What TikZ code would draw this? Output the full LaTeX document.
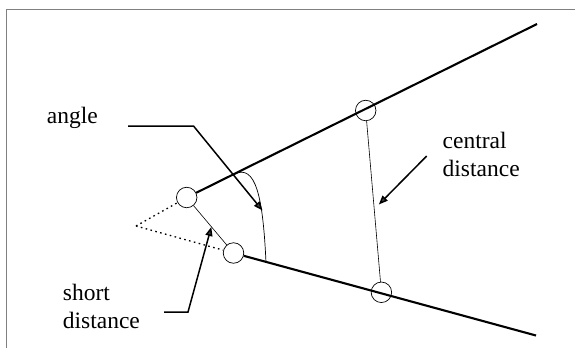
\documentclass[tikz,border=0pt]{standalone}
\usepackage{fontspec}
\setmainfont{Liberation Serif}
\usetikzlibrary{arrows.meta}
\begin{document}
\begin{tikzpicture}[x=1pt,y=-1pt,
  joint/.style={circle,draw,line width=0.7pt,fill=white,minimum size=20.5pt,inner sep=0pt},
  beam/.style={line width=2.1pt},
  thin/.style={line width=0.6pt},
  dots/.style={line width=1.3pt,dash pattern=on 1.6pt off 3.4pt},
  pointer/.style={line width=1.5pt,-{Triangle[length=9pt,width=7pt,fill=black!75]}},
  lbl/.style={inner sep=0pt,font=\fontsize{23.5}{27.8}\selectfont,align=left}]
\useasboundingbox (0,0) rectangle (575,348);
\draw[gray,line width=0.8pt] (575,9) -- (6,9) -- (6,348);
% dotted apex
\coordinate (v) at (136,226);
\node[joint] (c1) at (186.7,197.5) {};
\node[joint] (c2) at (233.5,253) {};
\node[joint] (c3) at (365.7,110.5) {};
\node[joint] (c4) at (381.4,292.3) {};
\coordinate (ue) at (537,24);
\coordinate (le) at (536,335.5);
\draw[beam] (c1) -- (ue);
\draw[beam] (c2) -- (le);
\draw[dots] (v) -- (c1);
\draw[dots] (v) -- (c2);
\draw[thin] (c1) -- (c2);
\draw[thin] (c3) -- (c4);
% angle arc
\coordinate (a1) at (234,174.3);
\coordinate (a2) at (266,262.5);
\draw[line width=0.7pt] (a1) .. controls (256,163) and (263,198) .. (a2);
% labels
\node[lbl,anchor=base west] (angle) at (46.7,123.3) {angle};
\node[lbl,anchor=base west] (central) at (442.5,176.7) {central\\distance};
\node[lbl,anchor=base west] (short) at (62.7,328.3) {short\\distance};
% pointers
\coordinate (p1) at (128,126);
\coordinate (p1b) at (193.5,126);
\coordinate (p1t) at (262.5,210.5);
\draw[pointer] (p1) -- (p1b) -- (p1t);
\coordinate (p2) at (426.7,156);
\coordinate (p2t) at (378.8,204.5);
\draw[pointer] (p2) -- (p2t);
\coordinate (p3) at (164,312);
\coordinate (p3b) at (188,312);
\coordinate (p3t) at (211.3,227);
\draw[pointer] (p3) -- (p3b) -- (p3t);
\end{tikzpicture}
\end{document}
